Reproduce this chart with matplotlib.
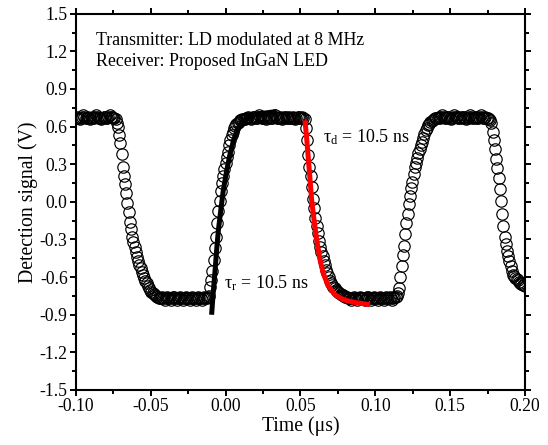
import numpy as np
import matplotlib
matplotlib.use("Agg")
import matplotlib.pyplot as plt
from matplotlib.ticker import MultipleLocator, FuncFormatter

plt.rcParams["font.family"] = ["Liberation Serif", "DejaVu Serif"]
plt.rcParams["mathtext.fontset"] = "stix"

# detection signal, sampled every 0.8 ns from -0.10 to 0.20 us
high_1 = [0.67, 0.68, 0.67, 0.66, 0.67, 0.68, 0.69, 0.68, 0.67, 0.67,
          0.68, 0.67, 0.66, 0.67, 0.68, 0.67, 0.68, 0.69, 0.68, 0.67,
          0.67, 0.66, 0.67, 0.68, 0.68, 0.67, 0.67, 0.68, 0.69, 0.68,
          0.68, 0.67]
fall_1 = [0.67, 0.66, 0.63, 0.60, 0.53, 0.47, 0.38, 0.28, 0.21, 0.14,
          0.07, -0.01, -0.08, -0.16, -0.22, -0.28, -0.32, -0.36, -0.40, -0.44,
          -0.47, -0.50, -0.53, -0.56, -0.58, -0.61, -0.63, -0.65, -0.67, -0.69,
          -0.70, -0.715, -0.725, -0.735, -0.74, -0.75, -0.76, -0.765, -0.77]
low_1 = [-0.77, -0.76, -0.77, -0.78, -0.77, -0.76, -0.77, -0.77, -0.78, -0.77,
         -0.76, -0.76, -0.77, -0.78, -0.77, -0.77, -0.76, -0.77, -0.78, -0.77,
         -0.77, -0.76, -0.77, -0.77, -0.78, -0.77, -0.76, -0.77, -0.77, -0.78,
         -0.77, -0.76, -0.77, -0.77, -0.78, -0.77, -0.76, -0.77, -0.77, -0.76]
rise_1 = [-0.75, -0.68, -0.62, -0.55, -0.46, -0.37, -0.28, -0.17, -0.07, 0.01,
          0.09, 0.15, 0.21, 0.26, 0.31, 0.36, 0.40, 0.45, 0.49, 0.53,
          0.56, 0.59, 0.605, 0.62, 0.63, 0.64, 0.65, 0.655, 0.66, 0.66]
high_2 = [0.66, 0.67, 0.67, 0.68, 0.67, 0.66, 0.67, 0.68, 0.68, 0.67,
          0.67, 0.68, 0.69, 0.68, 0.67, 0.67, 0.68, 0.67, 0.66, 0.67,
          0.68, 0.68, 0.67, 0.67, 0.68, 0.69, 0.68, 0.67, 0.67, 0.68,
          0.67, 0.66, 0.67, 0.68, 0.68, 0.67, 0.67, 0.68, 0.67, 0.67,
          0.68, 0.67, 0.66, 0.67, 0.68, 0.68, 0.67, 0.67, 0.68, 0.67]
fall_2 = [0.66, 0.59, 0.49, 0.37, 0.28, 0.21, 0.12, 0.02, -0.05, -0.13,
          -0.19, -0.25, -0.31, -0.36, -0.40, -0.43, -0.47, -0.50, -0.54, -0.57,
          -0.60, -0.63, -0.645, -0.66, -0.675, -0.69, -0.70, -0.71, -0.72, -0.73,
          -0.735, -0.74, -0.745, -0.75, -0.755, -0.76, -0.765, -0.77]
low_2 = [-0.77, -0.78, -0.77, -0.76, -0.77, -0.77, -0.78, -0.77, -0.76, -0.77,
         -0.77, -0.77, -0.78, -0.77, -0.76, -0.76, -0.77, -0.78, -0.77, -0.77,
         -0.76, -0.77, -0.77, -0.78, -0.77, -0.76, -0.77, -0.77, -0.78, -0.77,
         -0.76, -0.77, -0.77, -0.76, -0.77, -0.78, -0.77, -0.76, -0.76, -0.75]
rise_2 = [-0.73, -0.69, -0.60, -0.51, -0.42, -0.35, -0.26, -0.17, -0.10, -0.02,
          0.05, 0.11, 0.16, 0.22, 0.28, 0.31, 0.35, 0.39, 0.42, 0.45,
          0.48, 0.51, 0.54, 0.57, 0.59, 0.61, 0.62, 0.635, 0.645, 0.655,
          0.66, 0.665]
high_3 = [0.67, 0.67, 0.68, 0.67, 0.68, 0.69, 0.68, 0.67, 0.67, 0.68,
          0.68, 0.67, 0.66, 0.67, 0.68, 0.69, 0.68, 0.68, 0.67, 0.67,
          0.68, 0.67, 0.68, 0.68, 0.67, 0.66, 0.67, 0.68, 0.69, 0.68,
          0.67, 0.67, 0.68, 0.68, 0.67, 0.67, 0.68, 0.69, 0.68, 0.67,
          0.67, 0.68, 0.67, 0.67, 0.66, 0.65]
fall_3 = [0.63, 0.56, 0.49, 0.42, 0.34, 0.27, 0.19, 0.10, 0.01, -0.10,
          -0.19, -0.28, -0.34, -0.39, -0.43, -0.47, -0.51, -0.55, -0.58, -0.595,
          -0.605, -0.615, -0.625, -0.635, -0.645, -0.655, -0.66, -0.665, -0.67]

signal = np.array(high_1 + fall_1 + low_1 + rise_1 + high_2 + fall_2
                  + low_2 + rise_2 + high_3 + fall_3)
time = np.linspace(-0.10, 0.20, len(signal))

# exponential fits
rise_fit_t = [-0.0094, -0.0083, -0.0071, -0.0060, -0.0049, -0.0033, -0.0016, 0.0007,
              0.0029, 0.0055, 0.0084, 0.0118, 0.0162, 0.0207, 0.0274, 0.0341]
rise_fit_v = [-0.90, -0.72, -0.55, -0.38, -0.23, -0.07, 0.09, 0.25,
              0.38, 0.50, 0.59, 0.65, 0.68, 0.70, 0.71, 0.72]
fall_fit_t = [0.0530, 0.0541, 0.0552, 0.0563, 0.0574, 0.0590, 0.0608,
              0.0630, 0.0652, 0.0685, 0.0730, 0.0786, 0.0852, 0.0964]
fall_fit_v = [0.65, 0.51, 0.35, 0.19, 0.02, -0.14, -0.30,
              -0.46, -0.57, -0.67, -0.74, -0.78, -0.80, -0.82]

fig = plt.figure(figsize=(5.48, 4.45), dpi=100)
ax = fig.add_axes([0.1387, 0.1236, 0.8193, 0.8456])

ax.plot(time, signal, "o", ms=8.2, mfc="none", mec="black", mew=0.85, zorder=2)
ax.plot(rise_fit_t, rise_fit_v, color="black", lw=3.6, solid_capstyle="butt", zorder=3)
ax.plot(fall_fit_t, fall_fit_v, color="#ff0000", lw=3.6, solid_capstyle="butt", zorder=3)

ax.set_xlim(-0.10, 0.20)
ax.set_ylim(-1.5, 1.5)
ax.xaxis.set_major_locator(MultipleLocator(0.05))
ax.xaxis.set_minor_locator(MultipleLocator(0.025))
ax.yaxis.set_major_locator(MultipleLocator(0.3))
ax.yaxis.set_minor_locator(MultipleLocator(0.15))
ax.xaxis.set_major_formatter(FuncFormatter(lambda v, p: f"{round(v, 2) + 0.0:.2f}"))
ax.yaxis.set_major_formatter(FuncFormatter(lambda v, p: f"{round(v, 1) + 0.0:.1f}"))

for s in ax.spines.values():
    s.set_linewidth(1.5)
ax.tick_params(which="both", direction="out", top=True, right=True,
               labelsize=12.7, width=1.4, pad=2)
ax.tick_params(which="major", length=4)
ax.tick_params(which="minor", length=2.8)

ax.set_xlabel("Time (μs)", fontsize=14.2, labelpad=1)
ax.set_ylabel("Detection signal (V)", fontsize=14.2, labelpad=1)

ax.text(0.045, 0.930, "Transmitter: LD modulated at 8 MHz", transform=ax.transAxes,
        fontsize=12.9, va="center", ha="left")
ax.text(0.045, 0.872, "Receiver: Proposed InGaN LED", transform=ax.transAxes,
        fontsize=12.9, va="center", ha="left")

ax.text(-0.001, -0.69, r"τ$_\mathregular{r}$ = 10.5 ns", fontsize=12.9, va="baseline", ha="left")
ax.text(0.0648, 0.47, r"τ$_\mathregular{d}$ = 10.5 ns", fontsize=12.9, va="baseline", ha="left")

fig.savefig("out.png", dpi=100)
